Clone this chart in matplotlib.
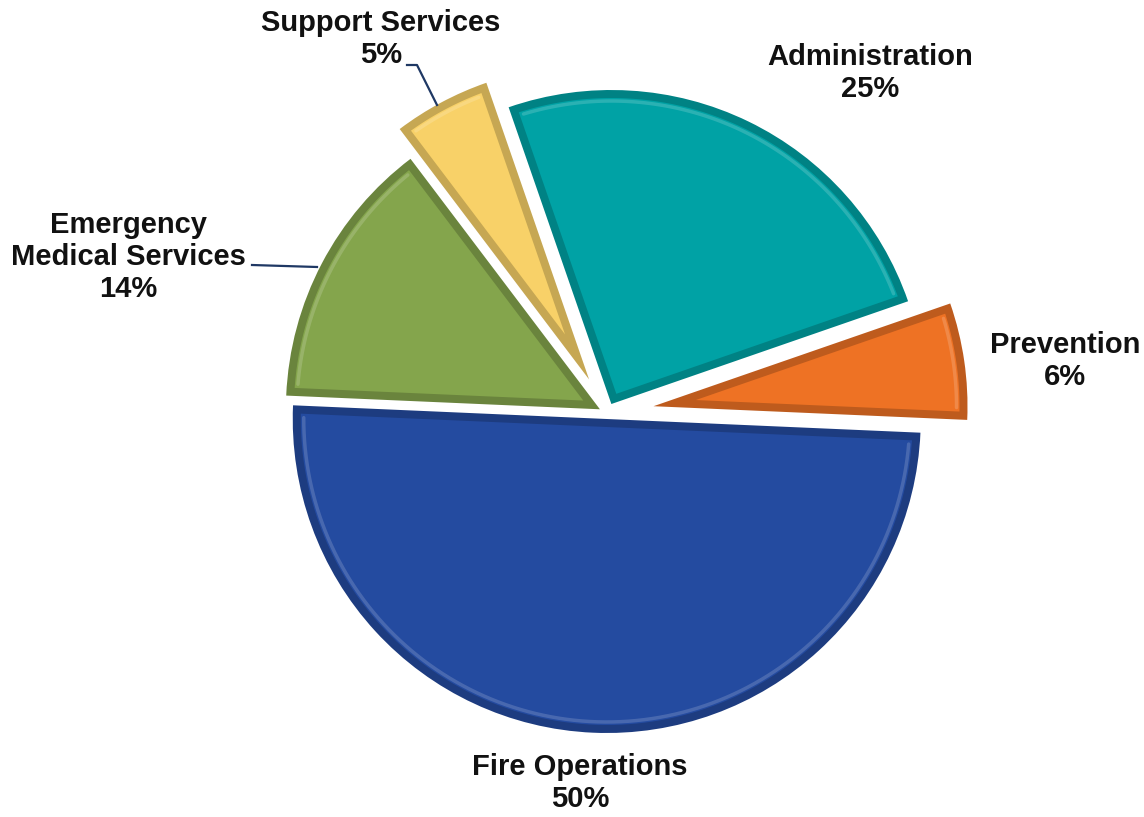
import numpy as np
import matplotlib
matplotlib.use("Agg")
import matplotlib.pyplot as plt
from matplotlib.patches import Polygon
import matplotlib.colors as mcolors

# ---- data ----
categories = ["Prevention", "Administration", "Support Services",
              "Emergency\nMedical Services", "Fire Operations"]
shares = [6, 25, 5, 14, 50]
colors = ["#EE7224", "#00A2A5", "#F8D168", "#84A54C", "#244BA0"]

# ---- layout (pixel space) ----
W, H = 1144, 817
fig = plt.figure(figsize=(W / 100, H / 100), dpi=100)
ax = fig.add_axes([0, 0, 1, 1])
cx, cy = 607, H - 413
radius = 314
explode_px = [47, 10, 38, 8, 6]

wedges, _ = ax.pie(shares, colors=colors, startangle=-2.5, counterclock=True,
                   radius=radius, center=(cx, cy), explode=explode_px,
                   wedgeprops=dict(linewidth=0))

def shade(c, f):
    r, g, b = mcolors.to_rgb(c)
    if f < 1:
        return (r * f, g * f, b * f)
    f = f - 1
    return (r + (1 - r) * f, g + (1 - g) * f, b + (1 - b) * f)

bevel = 8
for w, col in zip(wedges, colors):
    w.set_facecolor(shade(col, 0.8))
    (x0, y0), r = w.center, w.r
    t1, t2 = np.radians(w.theta1), np.radians(w.theta2)
    half = (t2 - t1) / 2
    mid = (t1 + t2) / 2
    d = bevel / np.sin(half)
    apex = (x0 + d * np.cos(mid), y0 + d * np.sin(mid))
    ri = r - bevel
    delta = np.arcsin(bevel / ri)
    ang = np.linspace(t1 + delta, t2 - delta, 120)
    arc = np.column_stack([x0 + ri * np.cos(ang), y0 + ri * np.sin(ang)])
    pts = np.vstack([[apex], arc])
    ax.add_patch(Polygon(pts, closed=True, facecolor=col, edgecolor="none", zorder=3))
    # soft highlight along the inner arc
    ri2 = ri - 3
    ang2 = np.linspace(t1 + delta * 1.5, t2 - delta * 1.5, 120)
    ax.plot(x0 + ri2 * np.cos(ang2), y0 + ri2 * np.sin(ang2),
            color=shade(col, 1.3), lw=2.5, alpha=0.55, zorder=4,
            solid_capstyle="round")

ax.set_xlim(0, W)
ax.set_ylim(0, H)
ax.set_aspect("equal", adjustable="box")
ax.axis("off")

# ---- labels ----
pct = [f"{v}%" for v in shares]
label_pos = [(1065, 361), (870, 73), (381, 39), (128, 257), (580, 783)]
font = dict(family="Liberation Sans", fontweight="bold", fontsize=21,
            color="#111111", ha="center", va="center", linespacing=1.2)
for name, p, (px, py) in zip(categories, pct, label_pos):
    ax.text(px, H - py, f"{name}\n{p}", **font, zorder=6)

# leader lines
line_col = "#1F3864"
ax.plot([407, 417, 437], [H - 65, H - 65, H - 105], color=line_col, lw=1.6, zorder=5)
ax.plot([252, 317], [H - 265, H - 267], color=line_col, lw=1.6, zorder=5)

fig.savefig("out.png", dpi=100, facecolor="white")
